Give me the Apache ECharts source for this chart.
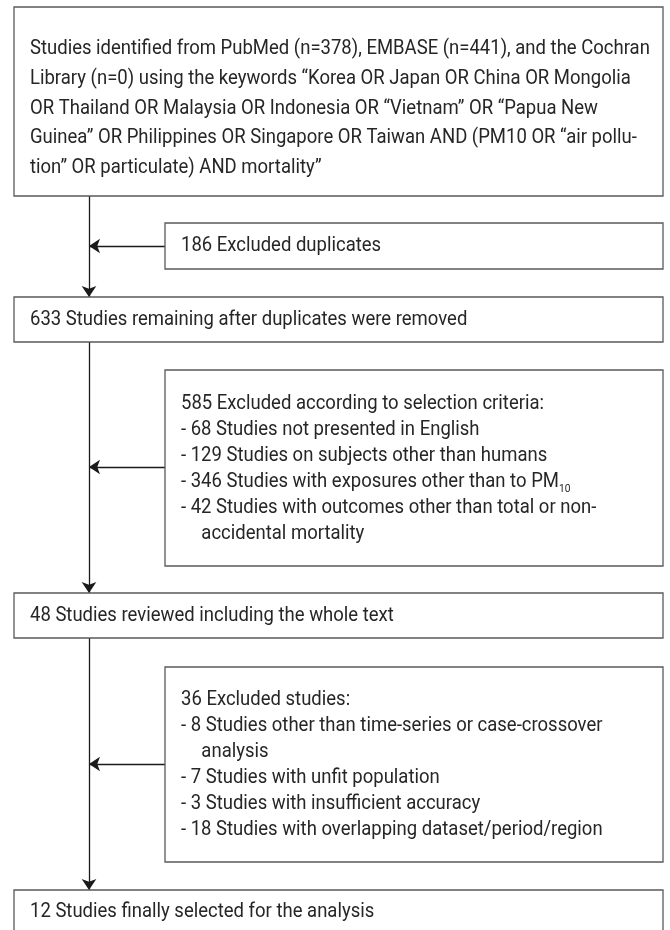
<!DOCTYPE html>
<html>
<head>
<meta charset="utf-8">
<script src="https://cdn.jsdelivr.net/npm/echarts@6/dist/echarts.min.js"></script>
<style>
html,body{margin:0;padding:0;background:#fff;}
#chart{width:670px;height:930px;}
</style>
</head>
<body>
<div id="chart"></div>
<script>
// ---- content ----
const identifiedText = [
  'Studies identified from PubMed (n=378), EMBASE (n=441), and the Cochran',
  'Library (n=0) using the keywords \u201cKorea OR Japan OR China OR Mongolia',
  'OR Thailand OR Malaysia OR Indonesia OR \u201cVietnam\u201d OR \u201cPapua New',
  'Guinea\u201d OR Philippines OR Singapore OR Taiwan AND (PM10 OR \u201cair pollu-',
  'tion\u201d OR particulate) AND mortality\u201d'
];
const duplicatesText = ['186 Excluded duplicates'];
const remainingText = ['633 Studies remaining after duplicates were removed'];
const criteriaText = [
  '585 Excluded according to selection criteria:',
  '- 68 Studies not presented in English',
  '- 129 Studies on subjects other than humans',
  '- 346 Studies with exposures other than to PM{sub|10}',
  '- 42 Studies with outcomes other than total or non-',
  '>>accidental mortality'
];
const reviewedText = ['48 Studies reviewed including the whole text'];
const excludedText = [
  '36 Excluded studies:',
  '- 8 Studies other than time-series or case-crossover',
  '>>analysis',
  '- 7 Studies with unfit population',
  '- 3 Studies with insufficient accuracy',
  '- 18 Studies with overlapping dataset/period/region'
];
const finalText = ['12 Studies finally selected for the analysis'];

const boxTexts = [identifiedText, duplicatesText, remainingText, criteriaText, reviewedText, excludedText, finalText];

// ---- layout (canvas units) ----
const boxLayout = [
  {x0: 14,  y0: 7,   x1: 663, y1: 196, lh: 29.75, dy: 7},
  {x0: 165, y0: 223, x1: 663, y1: 269, lh: 26, dy: 0},
  {x0: 14,  y0: 297, x1: 663, y1: 342, lh: 26, dy: 0},
  {x0: 165, y0: 370, x1: 663, y1: 566, lh: 26, dy: 1},
  {x0: 14,  y0: 593, x1: 663, y1: 638, lh: 26, dy: 0},
  {x0: 165, y0: 667, x1: 663, y1: 862, lh: 26, dy: 0},
  {x0: 14,  y0: 890, x1: 663, y1: 940, lh: 26, dy: -3}
];
const spineX = 89;
const arrowLayout = [
  [[spineX, 196], [spineX, 297]],
  [[spineX, 342], [spineX, 593]],
  [[spineX, 638], [spineX, 890]],
  [[165, 246], [spineX, 246]],
  [[165, 467], [spineX, 467]],
  [[165, 764], [spineX, 764]]
];

const FONT = 'Roboto, "Noto Sans", sans-serif';
const FS = 20;
const SQUEEZE = 0.925;
const TEXT_COLOR = '#262626';

const chart = echarts.init(document.getElementById('chart'), null, {renderer: 'canvas'});

function renderBox(params, api) {
  const i = api.value(0);
  const b = boxLayout[i];
  const p0 = api.coord([b.x0, b.y0]);
  const p1 = api.coord([b.x1, b.y1]);
  const lines = boxTexts[i].map(l => l.startsWith('>>') ? '{ind|' + l.slice(2) + '}' : l);
  return {
    type: 'group',
    children: [
      {
        type: 'rect',
        shape: {x: p0[0], y: p0[1], width: p1[0] - p0[0], height: p1[1] - p0[1]},
        style: {fill: '#fff', stroke: '#5a5a5a', lineWidth: 1.3}
      },
      {
        type: 'text',
        x: p0[0] + 16,
        y: (p0[1] + p1[1]) / 2 + b.dy,
        scaleX: SQUEEZE,
        scaleY: 1,
        style: {
          text: lines.join('\n'),
          fill: TEXT_COLOR,
          fontFamily: FONT,
          fontSize: FS,
          lineHeight: b.lh,
          align: 'left',
          verticalAlign: 'middle',
          rich: {
            sub: {fontSize: 11, fontFamily: FONT, fill: TEXT_COLOR, lineHeight: 21, verticalAlign: 'bottom'},
            ind: {fontSize: FS, fontFamily: FONT, fill: TEXT_COLOR, padding: [0, 0, 0, 22]}
          }
        }
      }
    ]
  };
}

chart.setOption({
  animation: false,
  grid: {left: 0, right: 0, top: 0, bottom: 0},
  xAxis: {type: 'value', min: 0, max: 670, show: false},
  yAxis: {type: 'value', min: 0, max: 930, inverse: true, show: false},
  series: [
    {
      type: 'lines',
      coordinateSystem: 'cartesian2d',
      z: 1,
      symbol: ['none', 'arrow'],
      symbolSize: 11,
      lineStyle: {color: '#1a1a1a', width: 1.3, opacity: 1},
      data: arrowLayout.map(c => ({coords: c}))
    },
    {
      type: 'custom',
      coordinateSystem: 'cartesian2d',
      z: 2,
      clip: false,
      renderItem: renderBox,
      data: boxTexts.map((t, i) => [i])
    }
  ]
});
</script>
</body>
</html>
